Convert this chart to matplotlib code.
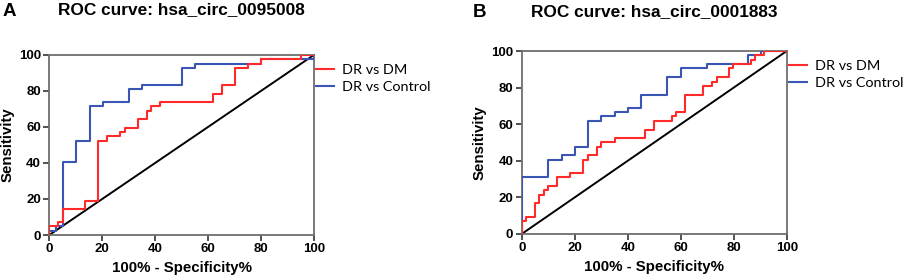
import matplotlib
matplotlib.use("Agg")
import matplotlib.pyplot as plt

# ROC data (x = 100% - specificity%, y = sensitivity %)
a_dm_x = [0, 0, 3.3, 5, 13.5, 18.6, 21.9, 26.8, 28.7, 33.6, 36.9, 38.4, 41.8, 61.8, 65.2, 70.1, 75.2, 80.1, 95.1, 100]
a_dm_y = [0, 4.8, 7.1, 14.3, 19.0, 52.4, 54.8, 57.1, 59.5, 64.3, 69.0, 71.4, 73.8, 78.6, 83.3, 92.9, 95.2, 97.6, 100, 100]
a_ctrl_x = [0, 0, 2.5, 5, 10.1, 15.2, 20.3, 30.2, 35.1, 50.2, 55.2, 80, 100, 100]
a_ctrl_y = [0, 2.4, 4.8, 40.5, 52.4, 71.4, 73.8, 81.0, 83.3, 92.9, 95.2, 97.6, 100, 100]

b_dm_x = [0, 0, 1.6, 5.2, 6.7, 8.3, 10.0, 13.3, 18.3, 23.3, 25.0, 28.3, 30.0, 35.2, 46.5, 50.0,
          56.6, 58.2, 61.6, 68.3, 71.7, 73.6, 78.3, 79.8, 86.5, 88.0, 91.6, 100]
b_dm_y = [0, 7.1, 9.5, 16.7, 21.4, 23.8, 26.2, 31.0, 33.3, 40.5, 42.9, 47.6, 50.0, 52.4, 57.1, 61.9,
          64.3, 66.7, 76.2, 81.0, 83.3, 85.7, 90.5, 92.9, 95.2, 97.6, 100, 100]
b_ctrl_x = [0, 0, 10.1, 15.1, 20, 25.2, 30.1, 35.2, 40.1, 45, 55, 60.1, 70.1, 85.2, 90.2, 100]
b_ctrl_y = [0, 31.0, 40.5, 42.9, 47.6, 61.9, 64.3, 66.7, 69.0, 76.2, 85.7, 90.5, 92.9, 97.6, 100, 100]

panels = [
    ("A", "ROC curve: hsa_circ_0095008", a_dm_x, a_dm_y, a_ctrl_x, a_ctrl_y),
    ("B", "ROC curve: hsa_circ_0001883", b_dm_x, b_dm_y, b_ctrl_x, b_ctrl_y),
]
ticks = [0, 20, 40, 60, 80, 100]

RED = "#ff2b2b"
BLUE = "#3b55b5"
ARIAL = "Liberation Sans"

fig = plt.figure(figsize=(9.13, 2.79), dpi=100)
rects = [[0.054, 0.1577, 0.2897, 0.6452], [0.5714, 0.1613, 0.2903, 0.6559]]
# title / letter positions (figure fractions)
title_y = [0.966, 0.958]
letter_pos = [(0.003, 0.959), (0.518, 0.955)]

for i, (rect, (letter, title, dx, dy, cx, cy)) in enumerate(zip(rects, panels)):
    ax = fig.add_axes(rect)
    ax.plot([0, 100], [0, 100], color="black", lw=1.4, zorder=2)
    ax.plot(cx, cy, drawstyle="steps-post", color=BLUE, lw=1.5, label="DR vs Control", zorder=3)
    ax.plot(dx, dy, drawstyle="steps-post", color=RED, lw=1.5, label="DR vs DM", zorder=4)
    ax.set_xlim(0, 100)
    ax.set_ylim(0, 100)
    ax.set_xticks(ticks)
    ax.set_yticks(ticks)
    for s in ax.spines.values():
        s.set_color("#6e6e6e")
        s.set_linewidth(1.3)
    ax.tick_params(length=4, width=1.2, color="#333333", pad=2)
    for lab in ax.get_xticklabels() + ax.get_yticklabels():
        lab.set_family(ARIAL)
        lab.set_weight("bold")
        lab.set_fontsize(9.5)
    ax.set_xlabel("100% - Specificity%", family=ARIAL, weight="bold", fontsize=10.8, labelpad=4)
    ax.set_ylabel("Sensitivity", family=ARIAL, weight="bold", fontsize=10.8, labelpad=3)
    handles, labels = ax.get_legend_handles_labels()
    ax.legend(handles[::-1], labels[::-1], loc="upper left", bbox_to_anchor=(1.01, 0.95),
              frameon=False, borderpad=0, borderaxespad=0, handlelength=1.25,
              handletextpad=0.5, labelspacing=0.35, prop={"family": "Lato", "size": 10.4})
    cx_mid = rect[0] + rect[2] / 2
    fig.text(cx_mid, title_y[i], title, family=ARIAL, weight="bold", fontsize=12.4,
             ha="center", va="center")
    fig.text(letter_pos[i][0], letter_pos[i][1], letter, family=ARIAL, weight="bold",
             fontsize=13.5, ha="left", va="center")

fig.savefig("out.png", dpi=100)
